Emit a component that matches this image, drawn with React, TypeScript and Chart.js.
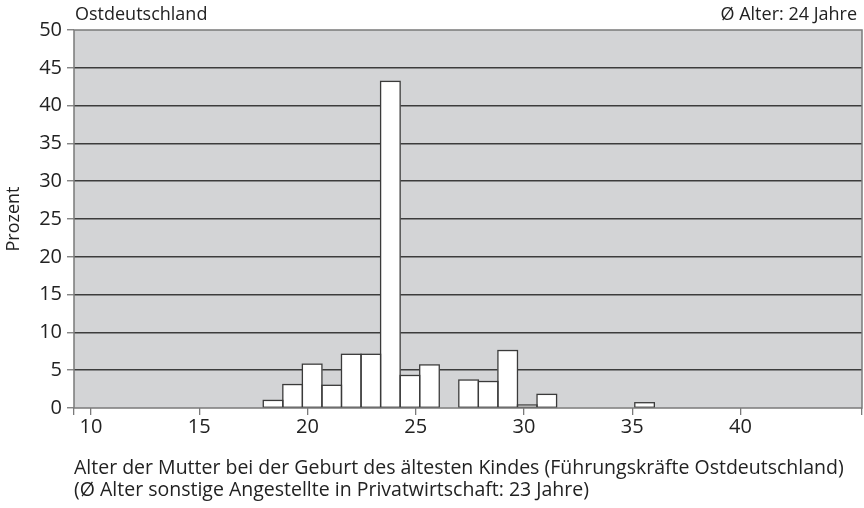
import React, { useEffect, useRef } from 'react';
import { Chart, registerables } from 'chart.js';

Chart.register(...registerables);

// Histogram bins (consecutive classes) and their shares in percent
const ages = [18, 19, 20, 21, 22, 23, 24, 25, 26, 27, 28, 29, 30, 31, 32, 33, 34, 35, 36, 37];
const percent = [1.0, 3.1, 5.8, 3.0, 7.1, 7.1, 43.2, 4.3, 5.7, 0, 3.7, 3.5, 7.6, 0.4, 1.8, 0, 0, 0, 0, 0.7];

const yTickValues = [0, 5, 10, 15, 20, 25, 30, 35, 40, 45, 50];
const xTickValues = [10, 15, 20, 25, 30, 35, 40];

const titleLeft = 'Ostdeutschland';
const titleRight = 'Ø Alter: 24 Jahre';
const yTitle = 'Prozent';
const xTitle = [
  'Alter der Mutter bei der Geburt des ältesten Kindes (Führungskräfte Ostdeutschland)',
  '(Ø Alter sonstige Angestellte in Privatwirtschaft: 23 Jahre)',
];

const FONT = 'Open Sans';
const TEXT = '#222222';
const BORDER = '#7a7a7a';
const GRID = '#3c3c3c';
const BG = '#d3d4d6';

export default function App() {
  const ref = useRef<HTMLCanvasElement | null>(null);

  useEffect(() => {
    document.body.style.margin = '0';
    const canvas = ref.current;
    if (!canvas) return;

    const bgPlugin = {
      id: 'plotBg',
      beforeDraw(chart: any) {
        const { ctx, chartArea: a } = chart;
        ctx.save();
        ctx.fillStyle = BG;
        ctx.fillRect(a.left, a.top, a.right - a.left, a.bottom - a.top);
        ctx.restore();
      },
      afterDatasetsDraw(chart: any) {
        const { ctx, chartArea: a } = chart;
        ctx.save();
        const meta = chart.getDatasetMeta(0);
        ctx.strokeStyle = '#3a3a3a';
        ctx.lineWidth = 1.3;
        meta.data.forEach((el: any, i: number) => {
          if (!percent[i]) return;
          const p = el.getProps(['x', 'y', 'base', 'width'], true);
          ctx.strokeRect(p.x - p.width / 2, p.y, p.width, p.base - p.y);
        });
        ctx.strokeStyle = BORDER;
        ctx.lineWidth = 1.5;
        ctx.strokeRect(a.left, a.top, a.right - a.left, a.bottom - a.top);
        ctx.restore();
      },
      afterDraw(chart: any) {
        const { ctx, chartArea: a } = chart;
        ctx.save();
        ctx.font = `18px "${FONT}"`;
        ctx.fillStyle = TEXT;
        ctx.textBaseline = 'middle';
        ctx.textAlign = 'left';
        ctx.fillText(titleLeft, a.left + 1, 15);
        ctx.textAlign = 'right';
        ctx.fillText(titleRight, a.right - 5, 15);
        ctx.restore();
      },
    };

    const chart = new Chart(canvas, {
      type: 'bar',
      data: {
        datasets: [
          {
            data: ages.map((a, i) => ({ x: a, y: percent[i] })),
            backgroundColor: '#ffffff',
            borderWidth: 0,
            categoryPercentage: 1,
            barPercentage: 1,
            xAxisID: 'x',
            yAxisID: 'y',
          },
        ],
      },
      options: {
        responsive: false,
        animation: false,
        events: [],
        layout: { padding: { top: 30, right: 2, left: 0, bottom: 0 } },
        plugins: { legend: { display: false }, tooltip: { enabled: false } },
        scales: {
          x: {
            type: 'linear',
            display: false,
            offset: false,
            min: 7.82,
            max: 48.12,
          },
          x2: {
            type: 'linear',
            position: 'bottom',
            offset: false,
            min: 9.215,
            max: 45.61,
            afterBuildTicks(scale: any) {
              scale.ticks = [scale.min, ...xTickValues, scale.max].map((v) => ({ value: v }));
            },
            afterFit(scale: any) {
              scale.height = 100;
            },
            ticks: {
              autoSkip: false,
              maxRotation: 0,
              padding: 0,
              color: TEXT,
              font: { family: FONT, size: 20 },
              callback: (v: any) => (xTickValues.includes(v) ? String(v) : ''),
            },
            grid: {
              offset: false,
              drawOnChartArea: false,
              drawTicks: true,
              tickLength: 7,
              color: BORDER,
              tickColor: BORDER,
              lineWidth: 1.3,
            },
            border: { display: false },
            title: {
              display: true,
              text: xTitle,
              align: 'start',
              color: TEXT,
              font: { family: FONT, size: 19.5, lineHeight: 1.13 },
              padding: { top: 0, bottom: 7 },
            },
          },
          y: {
            type: 'linear',
            min: 0,
            max: 50,
            afterBuildTicks(scale: any) {
              scale.ticks = yTickValues.map((v) => ({ value: v }));
            },
            afterFit(scale: any) {
              scale.width = 74;
            },
            ticks: {
              padding: 5,
              color: TEXT,
              font: { family: FONT, size: 20 },
            },
            grid: {
              color: (c: any) => (c.tick && (c.tick.value === 0 || c.tick.value === 50) ? 'rgba(0,0,0,0)' : GRID),
              tickColor: BORDER,
              lineWidth: 1.5,
              tickWidth: 1.3,
              tickLength: 7,
            },
            border: { display: false },
            title: {
              display: true,
              text: yTitle,
              color: TEXT,
              font: { family: FONT, size: 18 },
              padding: { top: 3, bottom: 0 },
            },
          },
        },
      },
      plugins: [bgPlugin],
    });

    return () => chart.destroy();
  }, []);

  return <canvas ref={ref} width={864} height={508} style={{ display: 'block' }} />;
}
